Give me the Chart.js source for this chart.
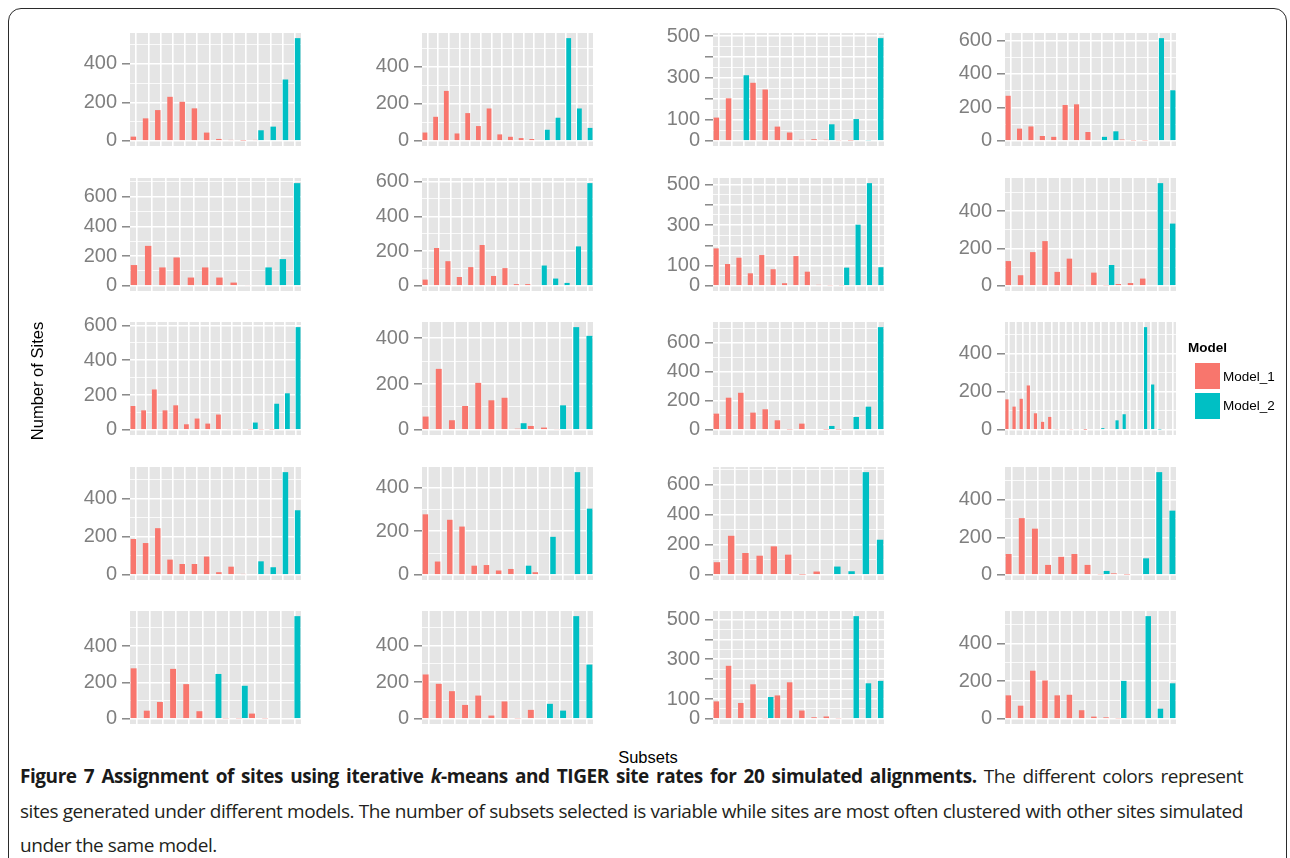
<!DOCTYPE html>
<html>
<head>
<meta charset="utf-8">
<title>Figure 7</title>
<script src="https://cdn.jsdelivr.net/npm/chart.js@4.4.1/dist/chart.umd.min.js"></script>
<style>
html, body { margin: 0; padding: 0; background: #fff; }
body { width: 1290px; height: 858px; position: relative; overflow: hidden; font-family: "Liberation Sans", Arial, sans-serif; }
.frame { position: absolute; left: 8px; top: 8px; width: 1277px; height: 1000px; border: 1.5px solid #2b2b2b; border-radius: 13px; }
canvas.panel { position: absolute; }
.ytitle { position: absolute; left: 37px; top: 381px; transform: translate(-50%, -50%) rotate(-90deg); font-size: 16.5px; white-space: nowrap; color: #000; }
.xtitle { position: absolute; left: 648px; top: 757px; transform: translate(-50%, -50%); font-size: 16.5px; color: #000; }
.leg-title { position: absolute; left: 1188px; top: 340px; font-size: 13.5px; font-weight: bold; }
.leg-key { position: absolute; left: 1195px; width: 25px; height: 26px; }
.leg-text { position: absolute; left: 1223px; font-size: 13.5px; }
.caption { position: absolute; left: 20px; top: 759px; width: 1223px; font-family: "Open Sans", sans-serif; font-size: 19px; letter-spacing: -0.45px; line-height: 34.5px; color: #231f20; }
.caption div { white-space: nowrap; }
.caption b { color: #1a1a1a; }
</style>
</head>
<body>
<div class="frame"></div>
<div id="panels"></div>
<div class="ytitle">Number of Sites</div>
<div class="xtitle">Subsets</div>
<div class="leg-title">Model</div>
<div class="leg-key" style="top:363px;background:#F8766D"></div>
<div class="leg-key" style="top:393px;background:#00BFC4"></div>
<div class="leg-text" style="top:369px">Model_1</div>
<div class="leg-text" style="top:398px">Model_2</div>
<div class="caption">
  <div class="just"><span><b>Figure 7 Assignment of sites using iterative <i>k</i>-means and TIGER site rates for 20 simulated alignments.</b> The different colors represent</span></div>
  <div class="just"><span>sites generated under different models. The number of subsets selected is variable while sites are most often clustered with other sites simulated</span></div>
  <div><span>under the same model.</span></div>
</div>
<script>
// sites per subset, one list per simulated alignment (reading order)
const model1 = [
  [22, 117, 160, 229, 203, 169, 43, 10, 5, 2, 5, 0, 0, 0],
  [45, 130, 270, 40, 150, 80, 175, 35, 22, 15, 10, 0, 0, 0, 0, 0],
  [111, 203, 0, 277, 245, 68, 40, 5, 8, 5, 3, 2, 0, 0],
  [269, 73, 86, 29, 24, 214, 218, 53, 0, 0, 8, 3, 3, 0, 0],
  [140, 269, 124, 191, 56, 124, 56, 22, 5, 0, 0, 0],
  [36, 218, 142, 51, 108, 235, 57, 102, 10, 10, 0, 0, 0, 0, 0],
  [185, 108, 139, 62, 152, 82, 13, 147, 70, 5, 3, 3, 0, 0, 0],
  [133, 57, 181, 240, 75, 146, 5, 71, 3, 10, 15, 39, 0, 0],
  [137, 112, 232, 112, 141, 32, 65, 36, 88, 5, 5, 3, 3, 3, 0, 0],
  [58, 266, 42, 104, 205, 129, 140, 5, 17, 10, 3, 0, 0],
  [112, 222, 256, 119, 142, 66, 3, 43, 0, 3, 3, 0, 0, 0],
  [160, 122, 163, 233, 87, 42, 68, 3, 0, 3, 0, 1, 0, 0, 0, 0, 0, 0, 0, 0, 0, 0, 0, 0],
  [188, 167, 245, 80, 57, 57, 96, 14, 43, 5, 0, 0, 0, 0],
  [277, 61, 252, 221, 42, 45, 20, 27, 0, 12, 0, 0, 0, 0],
  [84, 259, 145, 127, 189, 134, 2, 22, 0, 0, 0, 0],
  [111, 302, 246, 53, 96, 111, 53, 3, 8, 2, 0, 0, 0],
  [278, 45, 93, 275, 191, 42, 0, 3, 3, 29, 3, 0, 0],
  [242, 191, 151, 76, 127, 18, 95, 3, 49, 0, 5, 0, 0],
  [88, 267, 80, 174, 3, 118, 184, 42, 8, 12, 3, 0, 0, 0],
  [125, 70, 256, 204, 125, 128, 46, 12, 8, 3, 0, 0, 0, 0]
];
const model2 = [
  [0, 0, 0, 0, 0, 0, 0, 0, 0, 0, 55, 74, 319, 534],
  [0, 0, 0, 0, 0, 0, 0, 0, 0, 0, 0, 60, 125, 555, 175, 70],
  [0, 0, 313, 0, 0, 0, 0, 0, 0, 79, 0, 104, 3, 490],
  [0, 0, 0, 0, 0, 0, 0, 0, 24, 57, 0, 0, 0, 613, 302],
  [0, 0, 0, 0, 0, 0, 0, 0, 0, 124, 180, 691],
  [0, 0, 0, 0, 0, 0, 0, 0, 0, 0, 117, 42, 17, 227, 591],
  [0, 0, 0, 0, 0, 0, 0, 0, 0, 0, 0, 90, 302, 507, 92],
  [0, 0, 0, 0, 0, 0, 0, 0, 112, 0, 0, 0, 551, 334],
  [0, 0, 0, 0, 0, 0, 0, 0, 0, 0, 0, 42, 0, 150, 210, 590],
  [0, 0, 0, 0, 0, 0, 0, 29, 0, 0, 107, 448, 410],
  [0, 0, 0, 0, 0, 0, 0, 0, 0, 27, 0, 89, 160, 709],
  [0, 0, 0, 0, 0, 0, 0, 0, 0, 0, 0, 0, 0, 9, 0, 50, 82, 0, 0, 539, 238, 2, 0, 0],
  [0, 0, 0, 0, 0, 0, 0, 0, 0, 0, 71, 40, 539, 339],
  [0, 0, 0, 0, 0, 0, 0, 0, 42, 0, 174, 0, 470, 303],
  [0, 0, 0, 0, 0, 0, 0, 0, 55, 24, 681, 233],
  [0, 0, 0, 0, 0, 0, 0, 21, 0, 0, 88, 547, 342],
  [0, 0, 0, 0, 0, 0, 247, 0, 182, 0, 0, 0, 565],
  [0, 0, 0, 0, 0, 0, 0, 0, 0, 82, 45, 560, 296],
  [0, 0, 0, 0, 110, 0, 0, 0, 0, 0, 0, 517, 179, 191],
  [0, 0, 0, 0, 0, 0, 0, 0, 0, 202, 0, 546, 54, 189]
];
// spacing of the y tick marks and which of them carry a label
const tickStep = [200, 200, 100, 200, 200, 200, 100, 200, 200, 200, 200, 200, 200, 200, 200, 200, 200, 200, 100, 200];
const tickLabels = [
  [0, 200, 400], [0, 200, 400], [0, 100, 300, 500], [0, 200, 400, 600],
  [0, 200, 400, 600], [0, 200, 400, 600], [0, 100, 300, 500], [0, 200, 400],
  [0, 200, 400, 600], [0, 200, 400], [0, 200, 400, 600], [0, 200, 400],
  [0, 200, 400], [0, 200, 400], [0, 200, 400, 600], [0, 200, 400],
  [0, 200, 400], [0, 200, 400], [0, 100, 300, 500], [0, 200, 400]
];

const RED = '#F8766D';
const TEAL = '#00BFC4';
const AXIS_GREY = '#7f7f7f';

const PANEL_LEFT = 130, COL_STEP = 291.6;
const PANEL_TOP = 33, ROW_STEP = 144.5;
const PANEL_W = 171, PANEL_H = 113;
const AXIS_W = 62, PAD = 16;

const panelBg = {
  id: 'panelBg',
  beforeDraw(chart) {
    const { ctx, chartArea: a } = chart;
    ctx.save();
    ctx.fillStyle = '#E5E5E5';
    ctx.fillRect(a.left, a.top, a.right - a.left, a.bottom - a.top);
    ctx.restore();
  }
};

const holder = document.getElementById('panels');

model1.forEach((m1, i) => {
  const m2 = model2[i];
  const step = tickStep[i];
  const labelled = tickLabels[i];
  const top = Math.max(...m1, ...m2);
  const yMax = top * 1.05;
  const yMin = -top * 0.05;

  const yTicks = [];
  for (let v = 0; v <= yMax; v += step / 2) yTicks.push(v);

  const subsets = m1.map((_, k) => String(k + 1));

  const col = i % 4, row = Math.floor(i / 4);
  const canvas = document.createElement('canvas');
  canvas.className = 'panel';
  canvas.width = AXIS_W + PANEL_W;
  canvas.height = PANEL_H + 2 * PAD;
  canvas.style.left = Math.round(PANEL_LEFT + col * COL_STEP - AXIS_W) + 'px';
  canvas.style.top = Math.round(PANEL_TOP + row * ROW_STEP - PAD) + 'px';
  holder.appendChild(canvas);

  new Chart(canvas, {
    type: 'bar',
    data: {
      labels: subsets,
      datasets: [
        { label: 'Model_1', data: m1, backgroundColor: RED, borderWidth: 0, categoryPercentage: 0.9, barPercentage: 1 },
        { label: 'Model_2', data: m2, backgroundColor: TEAL, borderWidth: 0, categoryPercentage: 0.9, barPercentage: 1 }
      ]
    },
    options: {
      responsive: false,
      animation: false,
      devicePixelRatio: 1,
      layout: { padding: { top: PAD, bottom: PAD, left: 0, right: 0 } },
      plugins: { legend: { display: false }, tooltip: { enabled: false } },
      scales: {
        x: {
          border: { display: false },
          ticks: { display: false },
          grid: { color: '#fff', lineWidth: 1.6, offset: false, drawTicks: false },
          afterFit: s => { s.height = 0; s.paddingLeft = 0; s.paddingRight = 0; }
        },
        y: {
          min: yMin,
          max: yMax,
          border: { display: false },
          afterBuildTicks: s => { s.ticks = yTicks.map(v => ({ value: v })); },
          afterFit: s => { s.width = AXIS_W; s.paddingTop = 0; s.paddingBottom = 0; },
          grid: {
            color: '#fff',
            lineWidth: c => (c.tick && c.tick.value % step === 0) ? 1.6 : 0.8,
            tickColor: c => (c.tick && c.tick.value % step === 0) ? AXIS_GREY : 'rgba(0,0,0,0)',
            tickLength: 8,
            tickWidth: 1.4
          },
          ticks: {
            autoSkip: false,
            padding: 5,
            color: AXIS_GREY,
            font: { family: 'Liberation Sans', size: 20 },
            callback: v => labelled.includes(v) ? String(v) : ''
          }
        }
      }
    },
    plugins: [panelBg]
  });
});

// stretch the first two caption lines to the full width, like the justified original
document.querySelectorAll('.caption .just').forEach(line => {
  const target = 1223;
  const span = line.querySelector('span');
  const w = span.getBoundingClientRect().width;
  const spaces = (span.textContent.trim().match(/ /g) || []).length;
  line.style.wordSpacing = ((target - w) / spaces) + 'px';
});
</script>
</body>
</html>
